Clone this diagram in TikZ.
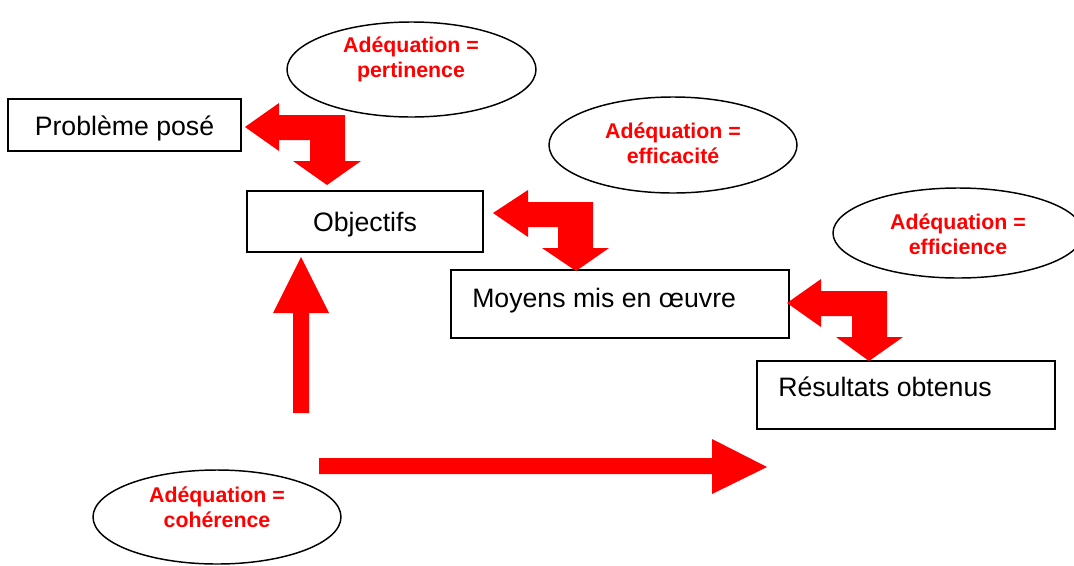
\documentclass[tikz,border=0pt]{standalone}
\usepackage{fontspec}
\setmainfont{Liberation Sans}
\usetikzlibrary{shapes.geometric}
\begin{document}
\begin{tikzpicture}[x=0.75pt,y=-0.75pt,
  box/.style={draw,line width=1.1pt,inner sep=0pt},
  txt/.style={font=\fontsize{20}{24}\selectfont,inner sep=0pt},
  oval/.style={draw,ellipse,line width=1.1pt,inner sep=0pt},
  lab/.style={text=red,font=\bfseries\fontsize{16}{18.75}\selectfont,align=center,inner sep=0pt},
  blk/.style={fill=red,draw=none}]
\useasboundingbox (0,0) rectangle (1074,565);
\clip (0,0) rectangle (1074,565);

% boxes
\node[box,minimum width=233*0.75pt,minimum height=52*0.75pt] (b1) at (124.5,125) {};
\node[txt,anchor=base] (t1) at (124.5,135) {Problème posé};
\node[box,minimum width=236*0.75pt,minimum height=61*0.75pt] (b2) at (365,221.5) {};
\node[txt,anchor=base] (t2) at (365,231) {Objectifs};
\node[box,minimum width=338*0.75pt,minimum height=68*0.75pt] (b3) at (620,304) {};
\node[txt,anchor=base west] (t3) at (472,307) {Moyens mis en œuvre};
\node[box,minimum width=298*0.75pt,minimum height=68*0.75pt] (b4) at (906,395) {};
\node[txt,anchor=base west] (t4) at (778,396) {Résultats obtenus};

% ellipses
\node[oval,minimum width=249*0.75pt,minimum height=95*0.75pt] (e1) at (411.5,69.5) {};
\node[lab] (l1) at (411,59) {Adéquation =\\pertinence};
\node[oval,minimum width=248*0.75pt,minimum height=96*0.75pt] (e2) at (673,145) {};
\node[lab] (l2) at (673,143) {Adéquation =\\efficacité};
\node[oval,minimum width=250*0.75pt,minimum height=90*0.75pt] (e3) at (958,233) {};
\node[lab] (l3) at (958,234) {Adéquation =\\efficience};
\node[oval,minimum width=248*0.75pt,minimum height=94*0.75pt] (e4) at (217,517) {};
\node[lab] (l4) at (217,507) {Adéquation =\\cohérence};

% bent block arrows
\fill[blk] (245,127) -- (279,103) -- (279,115) -- (345,115) -- (345,161) -- (361,161)
  -- (327,185) -- (293,161) -- (310,161) -- (310,140) -- (279,140) -- (279,151) -- cycle;
\fill[blk] (493,213) -- (528,190) -- (528,202) -- (593,202) -- (593,248) -- (609,248)
  -- (576,271) -- (542,248) -- (558,248) -- (558,227) -- (528,227) -- (528,237) -- cycle;
\fill[blk] (787,303) -- (821,279) -- (821,291) -- (887,291) -- (887,337) -- (903,337)
  -- (869,361) -- (836,337) -- (852,337) -- (852,316) -- (821,316) -- (821,327) -- cycle;

% straight block arrows
\fill[blk] (293,413) -- (293,313) -- (273,313) -- (301,257) -- (329,313) -- (309,313) -- (309,413) -- cycle;
\fill[blk] (319,458) -- (712,458) -- (712,439) -- (767,467) -- (712,494) -- (712,474) -- (319,474) -- cycle;
\end{tikzpicture}
\end{document}
